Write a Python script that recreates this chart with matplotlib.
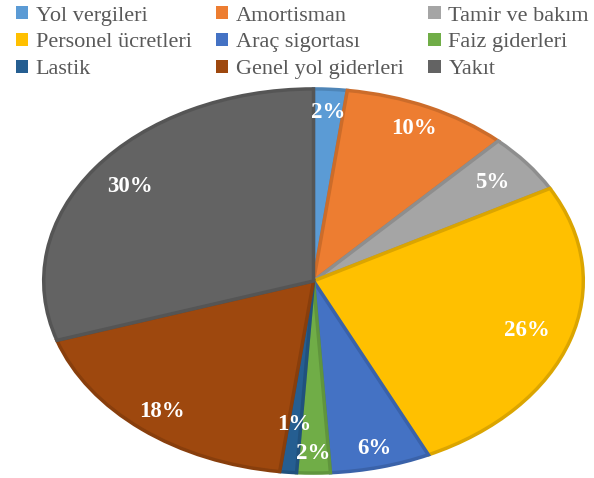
import matplotlib.pyplot as plt
import matplotlib.colors as mcolors
import numpy as np

plt.rcParams["font.family"] = ["Liberation Serif", "DejaVu Serif"]

# Cost breakdown (percent)
labels = ["Yol vergileri", "Amortisman", "Tamir ve bakım", "Personel ücretleri",
          "Araç sigortası", "Faiz giderleri", "Lastik", "Genel yol giderleri", "Yakıt"]
values = [2, 10, 5, 26, 6, 2, 1, 18, 30]
colors = ["#5B9BD5", "#ED7D31", "#A5A5A5", "#FFC000", "#4472C4",
          "#70AD47", "#255E91", "#9E480E", "#636363"]

# radial position of each percentage label
label_r = [0.88, 0.875, 0.84, 0.83, 0.90, 0.90, 0.75, 0.88, 0.84]

fig = plt.figure(figsize=(5.94, 4.78), dpi=100)
ax = fig.add_axes([41/594, 3/478, 545/594, 388/478])

def darker(c, f=0.86):
    r, g, b = mcolors.to_rgb(c)
    return (r*f, g*f, b*f)

wedges, _ = ax.pie(values, colors=colors, startangle=90, counterclock=False,
                   radius=1.0, wedgeprops=dict(linewidth=2.5))
for w, c in zip(wedges, colors):
    w.set_edgecolor(darker(c))

ax.set_aspect("auto")
ax.set_xlim(-1.01, 1.01)
ax.set_ylim(-1.01, 1.01)
ax.axis("off")

total = sum(values)
start = 90.0
for v, r in zip(values, label_r):
    mid = np.deg2rad(start - 360 * v / total / 2)
    start -= 360 * v / total
    ax.text(r * np.cos(mid), r * np.sin(mid), f"{v}%", ha="center", va="center",
            color="white", fontsize=16.5, fontweight="bold")

# legend filled row by row
order = [0, 3, 6, 1, 4, 7, 2, 5, 8]
leg = fig.legend([wedges[i] for i in order], [labels[i] for i in order],
                 loc="upper left", bbox_to_anchor=(0.0, 1.02), ncol=3, frameon=False,
                 fontsize=16, handlelength=0.55, handleheight=0.55, handletextpad=0.35,
                 columnspacing=1.1, labelspacing=0.33, borderpad=0.2)
for t in leg.get_texts():
    t.set_color("#595959")
for h in leg.legend_handles:
    h.set_edgecolor("none")

fig.savefig("out.png", dpi=100)
